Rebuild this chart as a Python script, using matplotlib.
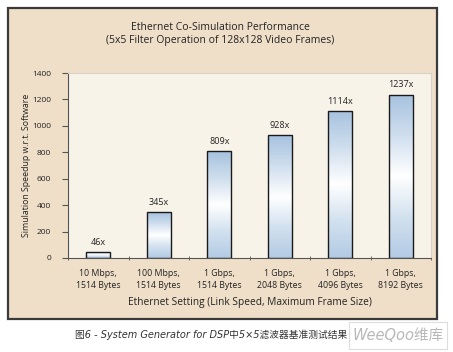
import matplotlib
matplotlib.use("Agg")
import matplotlib.pyplot as plt
import numpy as np
from matplotlib.patches import Rectangle
from matplotlib.colors import LinearSegmentedColormap

categories = ["10 Mbps,\n1514 Bytes", "100 Mbps,\n1514 Bytes", "1 Gbps,\n1514 Bytes",
              "1 Gbps,\n2048 Bytes", "1 Gbps,\n4096 Bytes", "1 Gbps,\n8192 Bytes"]
speedup = [46, 345, 809, 928, 1114, 1237]
value_labels = ["46x", "345x", "809x", "928x", "1114x", "1237x"]
yticks = [0, 200, 400, 600, 800, 1000, 1200, 1400]

plt.rcParams['font.family'] = ['Open Sans', 'DejaVu Sans']

W, H = 453, 352
fig = plt.figure(figsize=(W/100, H/100), dpi=100)
fig.patch.set_facecolor('white')

# outer beige panel
fig.patches.append(Rectangle((8/W, 1-319/H), (437-8)/W, (319-8)/H, transform=fig.transFigure,
                             facecolor='#efdfc8', edgecolor='#3a3a3a', linewidth=1.6, zorder=-5))

ax = fig.add_axes([68/W, 1-258/H, (431-68)/W, (258-73)/H])
ax.set_zorder(2)
ax.set_facecolor('#f8f3e9')
for s in ['top', 'right']:
    ax.spines[s].set_color('#d8d2c8')
    ax.spines[s].set_linewidth(0.8)
for s in ['left', 'bottom']:
    ax.spines[s].set_color('#555555')
    ax.spines[s].set_linewidth(0.8)

x = np.arange(len(categories))
cmap = LinearSegmentedColormap.from_list('g', ['#b3cbe5', '#d2e1ef', '#ffffff', '#cfdeee', '#a6c2df'])
grad = np.linspace(0, 1, 256).reshape(-1, 1)
bw = 0.4
bars = ax.bar(x, speedup, width=bw, facecolor='none', edgecolor='#1a1a1a', linewidth=1.0, zorder=3)
for b in bars:
    x0, y0 = b.get_x(), b.get_y()
    w, h = b.get_width(), b.get_height()
    im = ax.imshow(grad, extent=[x0, x0+w, y0, y0+h], aspect='auto', cmap=cmap,
                   origin='lower', zorder=2, interpolation='bilinear')
    im.set_clip_path(b)

for xi, v, lab in zip(x, speedup, value_labels):
    ax.text(xi, v + 40, lab, ha='center', va='bottom', fontsize=6.5, color='#222222')

ax.set_xlim(-0.5, len(categories) - 0.5)
ax.set_ylim(0, 1400)
ax.set_yticks(yticks)
ax.set_yticklabels([str(t) for t in yticks], fontsize=6, color='#222222')
ax.set_xticks(x)
ax.set_xticklabels(categories, fontsize=6.3, color='#222222', linespacing=1.45)
ax.tick_params(axis='x', length=0, pad=8)
ax.set_xticks(np.arange(len(categories) + 1) - 0.5, minor=True)
ax.tick_params(axis='x', which='minor', length=3, color='#555555', direction='inout')
ax.tick_params(axis='y', length=4, color='#555555', pad=8)

ax.set_xlabel("Ethernet Setting (Link Speed, Maximum Frame Size)", fontsize=7.3, color='#222222', va='center')
ax.xaxis.set_label_coords(0.5, (258-303)/185)
ax.set_ylabel("Simulation Speedup w.r.t. Software", fontsize=6.3, color='#222222', va='center')
ax.yaxis.set_label_coords((27-68)/363, 0.5)

fig.text(220/W, 1-27/H, "Ethernet Co-Simulation Performance", ha='center', va='center',
         fontsize=7.5, color='#222222')
fig.text(220/W, 1-40/H, "(5x5 Filter Operation of 128x128 Video Frames)", ha='center', va='center',
         fontsize=7.5, color='#222222')

fig.text(211/W, 1-335/H, "图6 - System Generator for DSP中5×5滤波器基准测试结果", ha='center', va='center',
         fontsize=7.0, style='italic', color='#333333',
         family=['DejaVu Sans', 'Noto Sans CJK SC'])

fig.patches.append(Rectangle((349/W, 1-349/H), (447-349)/W, (349-322)/H, transform=fig.transFigure,
                             facecolor='white', edgecolor='#dddddd', linewidth=0.8, zorder=5))
fig.text(398/W, 1-336/H, "WeeQoo维库", ha='center', va='center', fontsize=10.5, color='#b8b8b8',
         style='italic', family=['DejaVu Sans', 'Noto Sans CJK SC'], zorder=6)

fig.savefig('out.png', dpi=100)
